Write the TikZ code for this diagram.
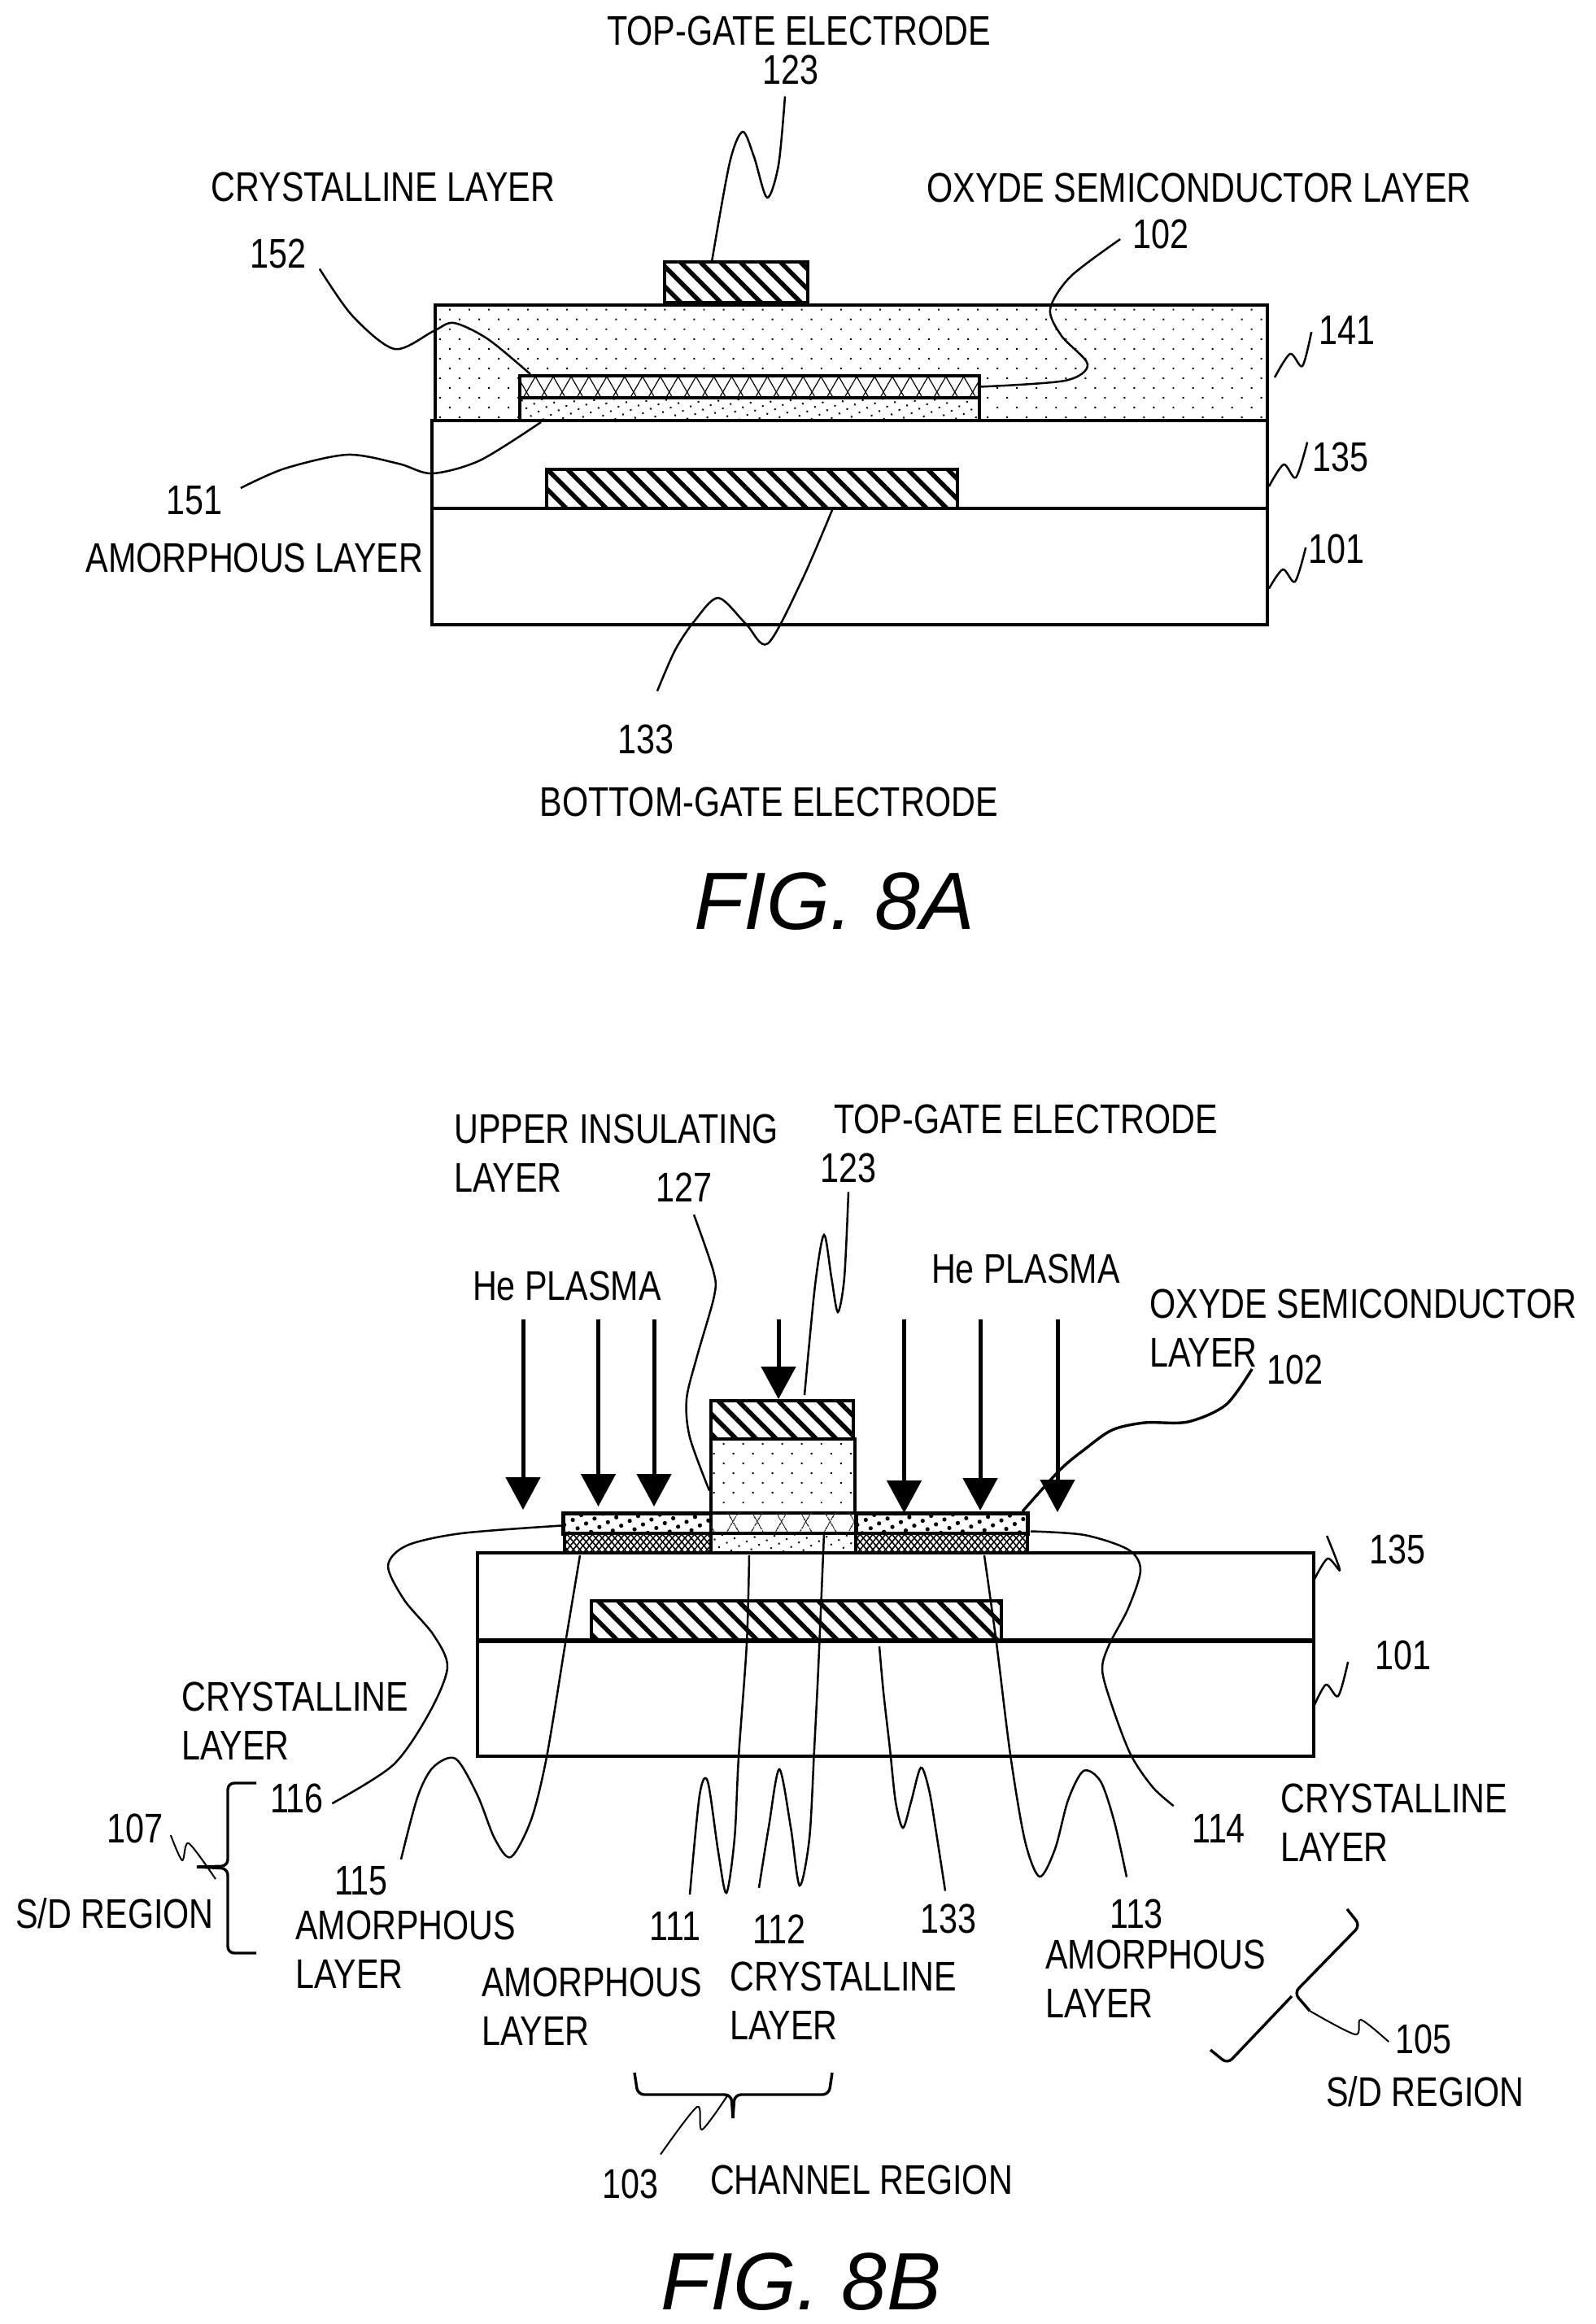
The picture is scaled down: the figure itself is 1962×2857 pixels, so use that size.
\documentclass[tikz,border=0pt]{standalone}
\usepackage{fontspec}
\setmainfont[FakeStretch=0.81]{Liberation Sans}
\newfontfamily\figfont{Liberation Sans}
\usetikzlibrary{patterns.meta,arrows.meta}

\begin{document}
\begin{tikzpicture}[x=.5pt, y=-.5pt, line join=miter,
		layer/.style = {draw, line width=2pt, anchor=north west, inner sep=0pt, outer sep=0pt, fill=white},
		hatch/.style = {postaction={pattern={Lines[angle=-45,distance=8.7pt,line width=2.8pt]}}},
		sparse/.style = {postaction={pattern={Dots[angle=45,distance=8.5pt,radius=.7pt]}}},
		dense/.style = {postaction={pattern={Dots[angle=30,distance=5.5pt,radius=.7pt]}}},
		lozenge/.style = {postaction={pattern={Lines[angle=60,distance=#1,line width=.6pt]}},
			postaction={pattern={Lines[angle=-60,distance=#1,line width=.6pt]}}},
		fine/.style = {postaction={pattern={Lines[angle=50,distance=3pt,line width=.8pt]}},
			postaction={pattern={Lines[angle=-50,distance=3pt,line width=.8pt]}}},
		dark/.style = {postaction={pattern={Dots[angle=30,distance=6pt,radius=1.3pt]}}},
		lead/.style = {line width=1.25pt},
		thin lead/.style = {line width=1pt},
		plasma/.style = {line width=2.5pt, -{Triangle[length=20pt,width=21pt]}},
		bracket/.style = {line width=1.7pt, rounded corners=4pt},
		lbl/.style = {inner sep=0pt, font=\fontsize{25.5}{30}\selectfont},
		two/.style = {lbl, anchor=west, align=left},
		fig/.style = {inner sep=0pt, font=\figfont\itshape\fontsize{50}{55}\selectfont}]
		\useasboundingbox (0,0) rectangle (1962,2857);

		% first figure
		\node[layer, sparse, minimum width=511.5pt, minimum height=71pt] (insa) at (535,375) {};
		\node[layer, hatch, minimum width=88pt, minimum height=25pt] (gatetopa) at (817,322) {};
		\node[layer, lozenge=9.5pt, minimum width=282.5pt, minimum height=13.5pt] (crya) at (639,462) {};
		\node[layer, dense, minimum width=282.5pt, minimum height=14pt] (amoa) at (639,489) {};
		\node[layer, minimum width=513.5pt, minimum height=54pt] (basea) at (531,517) {};
		\node[layer, hatch, minimum width=252.5pt, minimum height=24pt] (gatebota) at (672,577) {};
		\node[layer, minimum width=513.5pt, minimum height=71.5pt] (suba) at (531,625) {};

		\node[lbl] (ttla) at (982,38) {TOP-GATE ELECTRODE};
		\node[lbl] (n123a) at (972,86) {123};
		\node[lbl] (tcrya) at (471,230) {CRYSTALLINE LAYER};
		\node[lbl] (toxya) at (1474,231) {OXYDE SEMICONDUCTOR LAYER};
		\node[lbl] (n102a) at (1427,288) {102};
		\node[lbl] (n152a) at (342,312) {152};
		\node[lbl] (n141a) at (1656,406) {141};
		\node[lbl] (n135a) at (1648,562) {135};
		\node[lbl] (n101a) at (1643,675) {101};
		\node[lbl] (n151a) at (239,615) {151};
		\node[lbl] (tamoa) at (313,686) {AMORPHOUS LAYER};
		\node[lbl] (n133a) at (794,909) {133};
		\node[lbl] (tbota) at (945,986) {BOTTOM-GATE ELECTRODE};
		\node[fig] (figa) at (1026,1108) {FIG. 8A};

		\draw[lead] plot[smooth] coordinates {([shift={(-7,14)}]n123a.south) (957,203) (943,243) (927,193) (913,162) (897,200) ([shift={(58,0)}]gatetopa.north west)};
		\draw[lead] plot[smooth] coordinates {([shift={(16,0)}]n152a.south east) (433,388) (485,429) (533,407) (558,397) (600,417) ([shift={(13,-2)}]crya.north west)};
		\draw[lead] plot[smooth] coordinates {([shift={(-15,6)}]n102a.west) (1316,340) (1291,380) (1305,413) (1337,448) (1309,468) (crya.east)};
		\draw[lead] plot[smooth] coordinates {([shift={(22,-15)}]n151a.east) (350,576) (427,559) (490,570) (531,582) (590,566) ([shift={(26,2)}]amoa.south west)};
		\draw[lead] plot[smooth] coordinates {([shift={(14,-41)}]n133a.north) (830,799) (854,763) (883,735) (917,767) (944,791) (986,713) ([shift={(351,2)}]gatebota.south west)};
		\draw[lead] plot[smooth] coordinates {([shift={(-9,2)}]n141a.west) (1601,450) (1586,435) ([shift={(9,18)}]insa.east)};
		\draw[lead] plot[smooth] coordinates {([shift={(-6,0)}]n135a.north west) (1593,587) (1578,571) ([shift={(2,27)}]basea.east)};
		\draw[lead] plot[smooth] coordinates {([shift={(-3,-2)}]n101a.west) (1592,715) (1577,700) ([shift={(2,27)}]suba.east)};

		% second figure
		\node[layer, minimum width=514pt, minimum height=54pt] (baseb) at (587,1909) {};
		\node[layer, minimum width=514pt, minimum height=71pt] (subb) at (587,2017) {};
		\node[layer, hatch, minimum width=252pt, minimum height=24.5pt] (gatebotb) at (727,1968) {};
		\draw[line width=3pt] (subb.north west) -- (subb.north east);
		\node[layer, sparse, minimum width=88.5pt, minimum height=45.5pt] (insb) at (874,1769) {};
		\node[layer, hatch, minimum width=87.5pt, minimum height=23.5pt] (gatetopb) at (874,1722) {};
		\node[layer, dark, line width=2.5pt, minimum width=91pt, minimum height=12.5pt] (sdla) at (692,1860) {};
		\node[layer, fine, minimum width=90pt, minimum height=12pt] (sdlb) at (694,1885) {};
		\node[layer, lozenge=13pt, minimum width=89pt, minimum height=12.5pt] (cha) at (874,1860) {};
		\node[layer, dense, minimum width=89pt, minimum height=12pt] (chb) at (874,1885) {};
		\node[layer, dark, line width=2.5pt, minimum width=105.5pt, minimum height=12.5pt] (sdra) at (1052,1860) {};
		\node[layer, fine, minimum width=105.5pt, minimum height=12pt] (sdrb) at (1052,1885) {};

		\node[two] (tupper) at (558,1418) {UPPER INSULATING\\LAYER};
		\node[lbl] (ttlb) at (1261,1376) {TOP-GATE ELECTRODE};
		\node[lbl] (n127) at (841,1460) {127};
		\node[lbl] (n123b) at (1043,1436) {123};
		\node[lbl] (hel) at (697,1581) {He PLASMA};
		\node[lbl] (her) at (1261,1560) {He PLASMA};
		\node[two] (toxyb) at (1413,1633) {OXYDE SEMICONDUCTOR\\LAYER};
		\node[lbl] (n102b) at (1592,1684) {102};
		\node[lbl] (n135b) at (1718,1905) {135};
		\node[lbl] (n101b) at (1725,2035) {101};
		\node[two] (tcryl) at (223,2116) {CRYSTALLINE\\LAYER};
		\node[lbl] (n116) at (365,2211) {116};
		\node[lbl] (n107) at (166,2248) {107};
		\node[lbl] (tsdl) at (141,2352) {S/D REGION};
		\node[lbl] (n115) at (444,2312) {115};
		\node[two] (tamol) at (363,2397) {AMORPHOUS\\LAYER};
		\node[two] (tamoc) at (592,2467) {AMORPHOUS\\LAYER};
		\node[lbl] (n111) at (830,2368) {111};
		\node[lbl] (n112) at (958,2372) {112};
		\node[two] (tcryc) at (897,2460) {CRYSTALLINE\\LAYER};
		\node[lbl] (n133b) at (1166,2359) {133};
		\node[lbl] (n113) at (1397,2353) {113};
		\node[two] (tamor) at (1285,2433) {AMORPHOUS\\LAYER};
		\node[lbl] (n114) at (1498,2248) {114};
		\node[two] (tcryr) at (1574,2241) {CRYSTALLINE\\LAYER};
		\node[lbl] (n105) at (1750,2507) {105};
		\node[lbl] (tsdr) at (1752,2571) {S/D REGION};
		\node[lbl] (tchan) at (1059,2680) {CHANNEL REGION};
		\node[lbl] (n103) at (775,2685) {103};
		\node[fig] (figb) at (985,2805) {FIG. 8B};

		\foreach \ax/\ay/\ab in {643/1856/1622, 735.5/1852/1622, 804/1852/1622, 957/1720/1622, 1111.5/1860/1622, 1205/1857/1622, 1300/1859/1622} {
			\coordinate (from) at (\ax,\ab);
			\coordinate (to) at (\ax,\ay);
			\draw[plasma] (from) -- (to);
		}

		\coordinate (tipl) at (242,2295);
		\coordinate (tipc) at (901,2604);
		\coordinate (tipr) at (1610,2472);
		\draw[bracket] (315,2192) -- (280,2192) -- (280,2294) -- (tipl);
		\draw[bracket] (tipl) -- (280,2297) -- (280,2401) -- (315,2401);
		\draw[bracket] (780,2548) -- (784,2575) -- (899,2575) -- (tipc);
		\draw[bracket] (tipc) -- (903,2575) -- (1019,2575) -- (1023,2548);
		\draw[bracket] (1656,2347) -- (1672,2367) -- (1591,2450) -- (tipr);
		\draw[bracket] (1588,2454) -- (1509,2537) -- (1488,2520);

		\draw[lead] plot[smooth] coordinates {([shift={(12,15)}]n127.south) (877,1563) (878,1593) (857,1667) (844,1720) (848,1767) ([shift={(-2,18)}]insb.west)};
		\draw[lead] plot[smooth] coordinates {([shift={(0,11)}]n123b.south) (1038,1570) (1030,1613) (1022,1570) (1013,1518) (1002,1580) ([shift={(115,-7)}]gatetopb.north west)};
		\draw[line width=1.7pt] plot[smooth] coordinates {([shift={(-18,-1)}]n102b.west) (1507,1727) (1460,1748) (1407,1749) (1367,1758) (1333,1782) (1303,1807) ([shift={(-6,-2)}]sdra.north east)};
		\draw[lead] plot[smooth] coordinates {([shift={(10,6)}]n116.east) (483,2170) (527,2107) (550,2050) (533,2010) (497,1967) (477,1925) (500,1900) (567,1885) ([shift={(-2,3)}]sdla.west)};
		\draw[lead] plot[smooth] coordinates {([shift={(49,-8)}]n115.north) (513,2210) (532,2173) (560,2162) (587,2207) (608,2260) (628,2283) (653,2237) (672,2160) (695,2020) ([shift={(19,3)}]sdlb.south west)};
		\draw[lead] plot[smooth] coordinates {([shift={(18,-21)}]n111.north) (860,2207) (870,2190) (883,2277) (893,2327) (903,2260) (908,2160) (918,2020) ([shift={(47,3)}]chb.south west)};
		\draw[lead] plot[smooth] coordinates {([shift={(-25,-33)}]n112.north) (945,2246) (958,2175) (972,2246) (983,2318) (995,2260) (1001,2150) (1006,2050) ([shift={(139,0)}]chb.north west)};
		\draw[lead] plot[smooth] coordinates {([shift={(-4,-16)}]n133b.north) (1150,2247) (1142,2200) (1132,2173) (1120,2215) (1110,2247) (1101,2215) (1094,2150) (1086,2080) ([shift={(354,7)}]gatebotb.south west)};
		\draw[lead] plot[smooth] coordinates {([shift={(-12,-27)}]n113.north) (1370,2240) (1353,2190) (1332,2177) (1313,2213) (1297,2273) (1278,2307) (1260,2263) (1242,2157) (1225,2020) ([shift={(158,3)}]sdrb.south west)};
		\draw[lead] plot[smooth] coordinates {([shift={(-22,-10)}]n114.north west) (1417,2197) (1390,2157) (1367,2097) (1355,2053) (1363,2023) (1387,1977) (1402,1930) (1387,1905) (1333,1887) ([shift={(4,10)}]sdra.east)};
		\draw[lead] plot[smooth] coordinates {([shift={(-52,-17)}]n135b.west) (1647,1930) (1632,1916) ([shift={(0,-20)}]baseb.east)};
		\draw[lead] plot[smooth] coordinates {([shift={(-33,8)}]n101b.west) (1645,2085) (1630,2071) ([shift={(0,10)}]subb.east)};
		\draw[thin lead] plot[smooth] coordinates {([shift={(9,8)}]n107.east) (224,2287) (232,2266) ([shift={(23,15)}]tipl)};
		\draw[thin lead] plot[smooth] coordinates {([shift={(37,-18)}]n103.north) (857,2590) (863,2618) ([shift={(-6,-29)}]tipc)};
		\draw[thin lead] plot[smooth] coordinates {([shift={(-8,3)}]n105.west) (1673,2483) (1666,2501) (tipr)};
	\end{tikzpicture}
\end{document}
